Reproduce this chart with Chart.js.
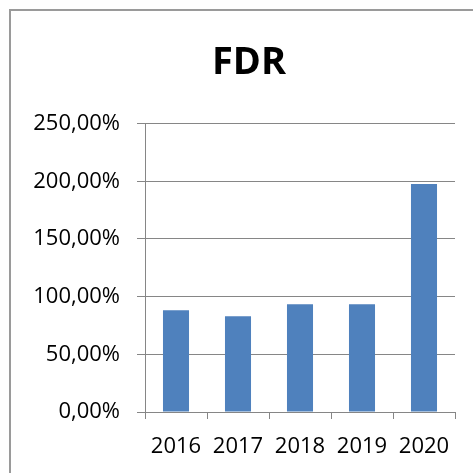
<!DOCTYPE html>
<html>
<head>
<meta charset="utf-8">
<script src="https://cdn.jsdelivr.net/npm/chart.js@4.4.0/dist/chart.umd.min.js"></script>
<style>
  html, body { margin: 0; padding: 0; background: #fff; }
  #wrap { position: relative; width: 473px; height: 473px; overflow: hidden; }
  #frame { position: absolute; left: 9px; top: 9px; width: 480px; height: 480px;
           border-left: 2px solid #9a9a9a; border-top: 2px solid #9a9a9a; }
  canvas { position: absolute; left: 0; top: 0; }
</style>
</head>
<body>
<div id="wrap">
  <div id="frame"></div>
  <canvas id="chart" width="473" height="473"></canvas>
</div>
<script>
var years = ['2016', '2017', '2018', '2019', '2020'];
var fdr = [88.3, 83.1, 93.5, 93.5, 197.7];
var yMin = 0;
var yMax = 250;
var yStep = 50;

function formatPct(v) {
    return v.toFixed(2).replace('.', ',') + '%';
}

new Chart(document.getElementById('chart').getContext('2d'), {
    type: 'bar',
    data: {
        labels: years,
        datasets: [{ label: 'FDR', data: fdr, backgroundColor: '#4f81bd', categoryPercentage: 1, barPercentage: 0.42 }]
    },
    options: {
        responsive: false,
        animation: false,
        layout: { padding: { left: 43, right: 18, top: 0, bottom: 12 } },
        plugins: {
            legend: { display: false },
            tooltip: { enabled: false },
            title: {
                display: true,
                text: 'FDR',
                color: '#000',
                font: { family: 'Open Sans', size: 38, weight: 'bold' },
                padding: { top: 40, bottom: 38 }
            }
        },
        scales: {
            x: {
                afterFit: function(scale) { scale.height = 49; },
                grid: { offset: true, drawOnChartArea: false, drawTicks: true, tickLength: 7, color: '#868686' },
                border: { color: '#868686', width: 1 },
                ticks: { color: '#000', padding: 15, font: { family: 'Open Sans', size: 22 } }
            },
            y: {
                min: yMin,
                max: yMax,
                afterFit: function(scale) {
                    // labels hang out past the box on the left, don't clip them
                    scale.width = 102;
                    scale._computeLabelArea = function() { return undefined; };
                },
                grid: { color: '#868686', tickLength: 8, lineWidth: 1 },
                border: { color: '#868686', width: 1 },
                ticks: {
                    stepSize: yStep,
                    color: '#000',
                    padding: 17,
                    font: { family: 'Open Sans', size: 22 },
                    callback: function(v) { return formatPct(v); }
                }
            }
        }
    }
});
</script>
</body>
</html>
